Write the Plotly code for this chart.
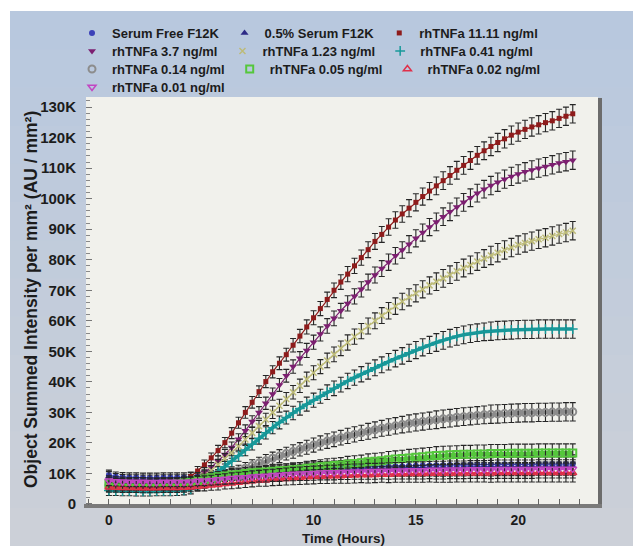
import plotly.graph_objects as go

# ---------------- data (values in thousands, AU / mm^2) ----------------
TIME_MIN = list(range(0, 1380, 20))          # scan every 20 minutes
TIME_H = [m / 60 for m in TIME_MIN]

SERUM_FREE = [9.5,9.0,8.8,8.7,8.7,8.6,8.6,8.6,8.7,8.7,8.7,8.7,
              8.8,9.0,9.1,9.3,9.5,9.6,9.8,10.0,10.1,10.3,10.5,10.6,
              10.8,10.9,11.1,11.2,11.3,11.4,11.5,11.6,11.6,11.7,11.8,11.9,
              12.0,12.1,12.1,12.2,12.3,12.3,12.4,12.4,12.5,12.5,12.6,12.6,
              12.7,12.7,12.8,12.8,12.8,12.9,12.9,12.9,12.9,13.0,13.0,13.0,
              13.0,13.0,13.0,13.1,13.1,13.1,13.1,13.1,13.1]
SERUM_05 = [9.0,8.5,8.2,8.1,8.1,8.0,8.0,8.0,8.1,8.1,8.1,8.1,
            8.2,8.4,8.6,8.8,9.0,9.2,9.4,9.6,9.7,9.9,10.0,10.2,
            10.3,10.4,10.6,10.7,10.8,10.9,11.0,11.1,11.1,11.2,11.3,11.4,
            11.5,11.5,11.6,11.6,11.7,11.7,11.8,11.8,11.9,11.9,11.9,12.0,
            12.0,12.0,12.1,12.1,12.1,12.2,12.2,12.2,12.2,12.3,12.3,12.3,
            12.3,12.3,12.3,12.4,12.4,12.4,12.4,12.4,12.4]
TNF_11_11 = [5.9,5.8,5.7,5.7,5.6,5.6,5.7,5.7,5.8,6.0,6.5,7.6,
             9.0,10.8,12.8,15.1,17.5,20.1,23.2,26.6,30.0,33.3,36.8,40.1,
             43.3,46.1,48.9,52.0,55.0,58.0,61.0,64.0,67.0,70.0,72.7,75.3,
             78.0,80.7,83.3,86.0,88.3,90.7,93.0,95.0,96.9,98.8,100.7,102.5,
             104.2,105.9,107.6,109.3,110.9,112.5,114.2,115.7,117.1,118.4,119.6,120.8,
             121.8,122.7,123.5,124.2,124.9,125.5,126.3,127.0,127.8]
TNF_3_7 = [7.0,6.9,6.8,6.8,6.7,6.7,6.7,6.8,6.8,6.8,6.9,7.0,
           7.5,8.8,10.3,12.0,14.0,16.2,18.5,21.2,24.0,27.0,30.0,33.0,
           36.0,39.0,42.0,45.0,47.7,50.3,53.0,55.7,58.3,60.8,63.3,65.7,
           68.0,70.3,72.7,75.0,77.1,79.2,81.3,83.2,85.1,87.0,88.9,90.7,
           92.4,94.1,95.7,97.3,98.8,100.3,101.8,103.1,104.3,105.4,106.4,107.3,
           108.1,108.8,109.4,110.0,110.5,111.1,111.7,112.1,112.6]
TNF_1_23 = [5.7,5.6,5.5,5.5,5.4,5.4,5.4,5.5,5.5,5.5,5.6,5.8,
            6.5,7.8,9.3,11.0,12.9,14.8,16.8,18.9,21.1,23.3,25.5,27.7,
            30.0,32.2,34.4,36.6,38.7,40.9,43.0,45.0,47.0,49.0,51.0,52.9,
            54.8,56.6,58.3,60.0,61.7,63.3,64.8,66.3,67.7,69.0,70.3,71.6,
            72.8,73.9,75.1,76.2,77.3,78.3,79.4,80.4,81.4,82.3,83.2,84.0,
            84.8,85.5,86.1,86.7,87.2,87.8,88.4,88.9,89.5]
TNF_0_41 = [4.4,4.3,4.2,4.2,4.1,4.1,4.1,4.2,4.2,4.2,4.3,4.5,
            4.8,5.9,7.3,8.8,10.5,12.2,14.0,15.8,17.7,19.6,21.5,23.3,
            25.0,26.7,28.3,29.8,31.3,32.7,34.0,35.3,36.6,37.9,39.1,40.3,
            41.4,42.5,43.5,44.6,45.6,46.6,47.6,48.5,49.5,50.4,51.3,52.1,
            52.9,53.6,54.3,54.9,55.4,55.8,56.1,56.4,56.6,56.8,56.9,57.0,
            57.1,57.2,57.2,57.3,57.3,57.3,57.3,57.3,57.3]
TNF_0_14 = [6.2,6.1,6.0,6.0,5.9,5.9,5.9,6.0,6.0,6.0,6.0,6.1,
            6.2,6.4,6.8,7.5,8.3,9.1,10.0,10.9,11.7,12.6,13.4,14.2,
            15.0,15.7,16.5,17.2,17.9,18.6,19.3,20.0,20.6,21.2,21.7,22.3,
            22.8,23.3,23.8,24.3,24.8,25.2,25.6,26.0,26.4,26.7,27.0,27.3,
            27.6,27.9,28.1,28.4,28.6,28.8,29.0,29.2,29.4,29.5,29.6,29.7,
            29.8,29.9,29.9,30.0,30.0,30.1,30.1,30.2,30.2]
TNF_0_05 = [6.6,6.5,6.4,6.3,6.3,6.3,6.3,6.3,6.4,6.4,6.6,6.9,
            7.2,7.7,8.2,8.6,8.9,9.2,9.5,9.7,10.0,10.2,10.4,10.5,
            10.7,10.9,11.0,11.2,11.4,11.7,11.9,12.2,12.4,12.6,12.8,13.1,
            13.3,13.5,13.8,14.0,14.2,14.5,14.7,14.9,15.1,15.3,15.5,15.7,
            15.9,16.0,16.1,16.2,16.3,16.3,16.4,16.4,16.5,16.5,16.5,16.6,
            16.6,16.6,16.6,16.7,16.7,16.7,16.7,16.7,16.7]
TNF_0_02 = [5.5,5.4,5.3,5.3,5.3,5.2,5.2,5.2,5.3,5.3,5.3,5.4,
            5.5,5.7,5.9,6.1,6.3,6.6,6.8,7.0,7.3,7.5,7.7,7.8,
            8.0,8.2,8.3,8.5,8.6,8.8,8.9,9.0,9.1,9.2,9.2,9.3,
            9.4,9.5,9.5,9.6,9.7,9.7,9.8,9.8,9.9,9.9,9.9,10.0,
            10.0,10.0,10.0,10.1,10.1,10.1,10.1,10.1,10.1,10.2,10.2,10.2,
            10.2,10.2,10.2,10.2,10.2,10.2,10.2,10.2,10.2]
TNF_0_01 = [7.6,7.4,7.3,7.2,7.2,7.2,7.1,7.1,7.2,7.2,7.2,7.2,
            7.3,7.5,7.6,7.8,8.0,8.2,8.4,8.6,8.7,8.9,9.1,9.2,
            9.4,9.5,9.7,9.8,9.9,10.0,10.1,10.2,10.3,10.3,10.4,10.5,
            10.6,10.6,10.7,10.7,10.8,10.8,10.9,10.9,11.0,11.0,11.0,11.1,
            11.1,11.1,11.2,11.2,11.2,11.3,11.3,11.3,11.3,11.4,11.4,11.4,
            11.4,11.4,11.4,11.5,11.5,11.5,11.5,11.5,11.5]
SEM = [1.6,1.5,1.5,1.5,1.5,1.5,1.5,1.5,1.5,1.5,1.5,1.5,
       1.5,1.5,1.6,1.6,1.7,1.7,1.8,1.8,1.9,1.9,1.9,2.0,
       2.0,2.1,2.1,2.2,2.2,2.3,2.3,2.3,2.4,2.4,2.4,2.5,
       2.5,2.5,2.6,2.6,2.6,2.7,2.7,2.7,2.8,2.8,2.8,2.8,
       2.9,2.9,2.9,2.9,2.9,2.9,2.9,2.9,3.0,3.0,3.0,3.0,
       3.0,3.0,3.0,3.0,3.0,3.0,3.0,3.0,3.0]

SERIES_NAMES = ["Serum Free F12K", "0.5% Serum F12K", "rhTNFa 11.11 ng/ml",
                "rhTNFa 3.7 ng/ml", "rhTNFa 1.23 ng/ml", "rhTNFa 0.41 ng/ml",
                "rhTNFa 0.14 ng/ml", "rhTNFa 0.05 ng/ml", "rhTNFa 0.02 ng/ml",
                "rhTNFa 0.01 ng/ml"]
SERIES_VALUES = [SERUM_FREE, SERUM_05, TNF_11_11, TNF_3_7, TNF_1_23, TNF_0_41,
                 TNF_0_14, TNF_0_05, TNF_0_02, TNF_0_01]
Y_TICKS = [0, 10, 20, 30, 40, 50, 60, 70, 80, 90, 100, 110, 120, 130]
Y_TICK_TEXT = ["0"] + [f"{v}K" for v in Y_TICKS[1:]]
X_TICKS = [0, 5, 10, 15, 20]

for s in SERIES_VALUES:
    assert len(s) == len(TIME_H), len(s)
assert len(SEM) == len(TIME_H)

# ---------------- styles ----------------
STYLES = [
    dict(color="#3b41b8", symbol="circle", size=6, lw=1.2, mlw=0),
    dict(color="#2c2a86", symbol="triangle-up", size=7, lw=1.2, mlw=0),
    dict(color="#8e1b1b", symbol="square", size=5, lw=1.2, mlw=0),
    dict(color="#7c1f70", symbol="triangle-down", size=7, lw=1.2, mlw=0),
    dict(color="#bdbb78", symbol="x-thin", size=6, lw=1.2, mlw=1.5),
    dict(color="#17999a", symbol="cross-thin", size=7, lw=3.5, mlw=1.5),
    dict(color="#8c8c8c", symbol="circle-open", size=7, lw=4, mlw=2),
    dict(color="#55c73c", symbol="square-open", size=7, lw=4, mlw=2),
    dict(color="#e0304a", symbol="triangle-up-open", size=7, lw=2, mlw=1.5),
    dict(color="#c246c2", symbol="triangle-down-open", size=7, lw=2, mlw=1.5),
]
# legend rows as in the reference (3 + 3 + 3 + 1 entries)
LEGEND_ROW = ["legend", "legend", "legend", "legend2", "legend2", "legend2",
              "legend3", "legend3", "legend3", "legend4"]

W, H = 633, 546
L, R, T, B = 86, 598, 97, 505


def px_x(p):
    return (p - L) / (R - L)


def px_y(p):
    return (B - p) / (B - T)


FONT = "Liberation Sans, Arial, sans-serif"
fig = go.Figure()

for name, vals, st, lg in zip(SERIES_NAMES, SERIES_VALUES, STYLES, LEGEND_ROW):
    fig.add_trace(go.Scatter(
        x=TIME_H, y=vals, mode="lines", showlegend=False, hoverinfo="skip",
        line=dict(color=st["color"], width=st["lw"]),
    ))
    fig.add_trace(go.Scatter(
        x=TIME_H, y=vals, mode="markers", name=name, legend=lg,
        marker=dict(color=st["color"], symbol=st["symbol"], size=st["size"],
                    line=dict(color=st["color"], width=st["mlw"])),
        error_y=dict(type="data", array=SEM, color="#262626", thickness=1.1, width=3),
    ))

# background: white page, blue-gray gradient panel, plot area with dark shadow
shapes = []
top_c = (184, 200, 222)
bot_c = (204, 208, 216)
nb = 14
y_top, y_bot = 11, 546
for k in range(nb):
    f = k / (nb - 1)
    c = tuple(round(top_c[j] + (bot_c[j] - top_c[j]) * f) for j in range(3))
    p0 = y_top + (y_bot - y_top) * k / nb
    p1 = y_top + (y_bot - y_top) * (k + 1) / nb + 1
    shapes.append(dict(type="rect", xref="paper", yref="paper", layer="below",
                       x0=px_x(10), x1=px_x(W + 2), y0=px_y(p1), y1=px_y(p0),
                       fillcolor="rgb(%d,%d,%d)" % c, line=dict(width=0)))
shapes.append(dict(type="rect", xref="paper", yref="paper", layer="below",
                   x0=0, x1=1, y0=0, y1=1, fillcolor="#f1f1ec", line=dict(width=0)))
shapes.append(dict(type="rect", xref="paper", yref="paper", layer="below",
                   x0=1, x1=px_x(602), y0=px_y(508), y1=px_y(98),
                   fillcolor="#6c6c6c", line=dict(width=0)))
shapes.append(dict(type="rect", xref="paper", yref="paper", layer="below",
                   x0=px_x(84), x1=px_x(602), y0=px_y(508), y1=px_y(504),
                   fillcolor="#7a7a7a", line=dict(width=0)))

legend_font = dict(family=FONT, size=13, color="#1c1c1c", weight="bold")


def legend_row(center_y):
    return dict(orientation="h", x=px_x(72), xanchor="left",
                y=px_y(center_y - 15), yanchor="top",
                bgcolor="rgba(0,0,0,0)", font=legend_font,
                itemclick=False, itemdoubleclick=False)


tickfont = dict(family=FONT, size=14, color="#1c1c1c", weight="bold")

fig.update_layout(
    width=W, height=H,
    margin=dict(l=L, r=W - R, t=T, b=H - B, autoexpand=False),
    paper_bgcolor="white",
    plot_bgcolor="rgba(0,0,0,0)",
    shapes=shapes,
    showlegend=True,
    legend=legend_row(33),
    legend2=legend_row(51),
    legend3=legend_row(69),
    legend4=legend_row(87),
    xaxis=dict(range=[-1.12, 23.9], tickmode="array", tickvals=X_TICKS,
               ticks="inside", ticklen=6, tickcolor="#666", tickwidth=1,
               showgrid=False, zeroline=False, showline=False,
               tickfont=tickfont, ticklabelstandoff=5,
               minor=dict(tickmode="linear", tick0=0, dtick=1, ticks="inside",
                          ticklen=6, tickcolor="#666", showgrid=False)),
    yaxis=dict(range=[-0.33, 133.3], tickmode="array", tickvals=Y_TICKS,
               ticktext=Y_TICK_TEXT,
               ticks="inside", ticklen=6, tickcolor="#777", tickwidth=1,
               showgrid=False, zeroline=False, showline=False,
               tickfont=dict(family=FONT, size=15, color="#1c1c1c", weight="bold"),
               ticklabelstandoff=9,
               minor=dict(tickmode="linear", tick0=0, dtick=2, ticks="inside",
                          ticklen=4, tickcolor="#888", showgrid=False)),
    annotations=[
        dict(text="Object Summed Intensity per mm² (AU / mm²)", xref="paper", yref="paper",
             x=px_x(31), y=px_y(300), textangle=-90, showarrow=False,
             xanchor="center", yanchor="middle",
             font=dict(family=FONT, size=17.5, color="#1c1c1c", weight="bold")),
        dict(text="Time (Hours)", xref="paper", yref="paper",
             x=px_x(343), y=px_y(538), showarrow=False, xanchor="center", yanchor="middle",
             font=dict(family=FONT, size=13.5, color="#1c1c1c", weight="bold")),
    ],
)

fig.write_html("out.html", config={"displayModeBar": False},
               post_script="document.body.style.margin='0px';")
